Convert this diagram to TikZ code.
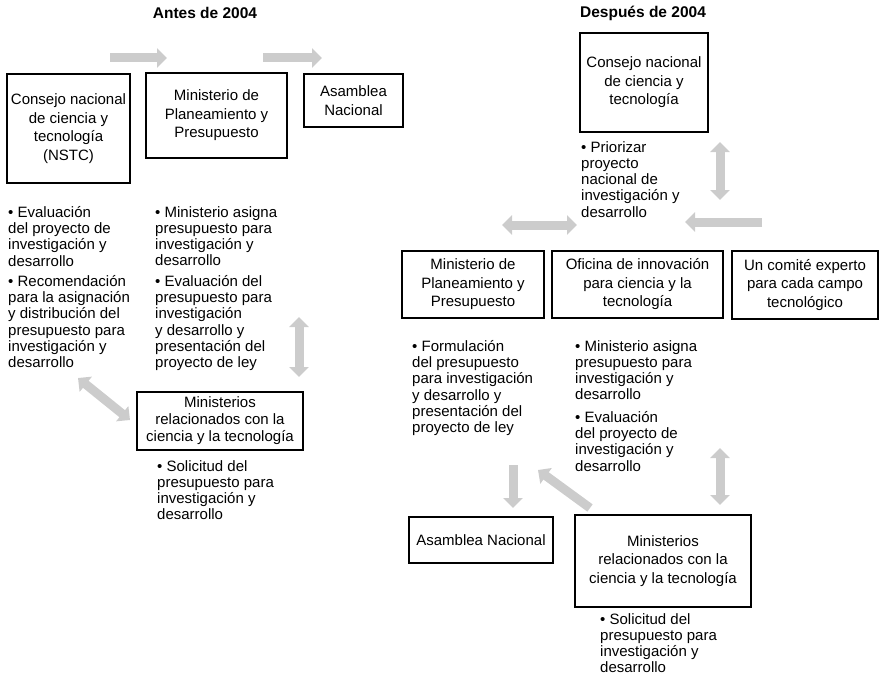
\documentclass[tikz,border=0pt]{standalone}
\usepackage{fontspec}
\setmainfont{Liberation Sans}
\usetikzlibrary{arrows.meta}

\begin{document}
\begin{tikzpicture}[x=1pt, y=-1pt,
  caja/.style={draw, line width=2pt, align=center, inner sep=0pt, font=\fontsize{15}{18.5}\selectfont},
  nota/.style={anchor=north west, align=left, inner sep=0pt, font=\fontsize{15}{16.3}\selectfont},
  titulo/.style={font=\fontsize{15.5}{18}\selectfont\bfseries},
  flecha/.style={line width=9pt, draw=black!20, -{Triangle[length=10pt,width=19pt]}},
  dflecha/.style={line width=9pt, draw=black!20, {Triangle[length=10pt,width=19pt]}-{Triangle[length=10pt,width=19pt]}}]
\useasboundingbox (0,0) rectangle (881,677);

% Antes de 2004
\node[titulo] (antes) at (205,13) {Antes de 2004};
\node[caja, minimum width=123, minimum height=109] (consejoA) at (68.5,128.5) {Consejo nacional\\de ciencia y\\tecnología\\(NSTC)};
\node[caja, minimum width=141, minimum height=85] (ministerioA) at (216.5,115.5) {Ministerio de\\Planeamiento y\\Presupuesto};
\node[caja, minimum width=99, minimum height=53] (asambleaA) at (353.5,100.5) {Asamblea\\Nacional};
\node[caja, minimum width=166, minimum height=58, font=\fontsize{15}{17}\selectfont] (ministeriosA) at (220,421) {Ministerios\\relacionados con la\\ciencia y la tecnología};

\node[nota] (evalA) at (8,206) {• Evaluación\\del proyecto de\\investigación y\\desarrollo};
\node[nota] (recomA) at (8,275) {• Recomendación\\para la asignación\\y distribución del\\presupuesto para\\investigación y\\desarrollo};
\node[nota] (asignaA) at (155,206) {• Ministerio asigna\\presupuesto para\\investigación y\\desarrollo};
\node[nota] (evalpresA) at (155,275) {• Evaluación del\\presupuesto para\\investigación\\y desarrollo y\\presentación del\\proyecto de ley};
\node[nota] (solicitudA) at (157,460) {• Solicitud del\\presupuesto para\\investigación y\\desarrollo};

\coordinate (a1) at (110,58);
\coordinate (a2) at (167,58);
\coordinate (a3) at (263,58);
\coordinate (a4) at (322,58);
\coordinate (a5) at (299,317);
\coordinate (a6) at (299,377);
\coordinate (a7) at (78,378);
\coordinate (a8) at (130,420);
\draw[flecha] (a1) -- (a2);
\draw[flecha] (a3) -- (a4);
\draw[dflecha] (a5) -- (a6);
\draw[dflecha] (a7) -- (a8);

% Despues de 2004
\node[titulo] (despues) at (643,13) {Después de 2004};
\node[caja, minimum width=128, minimum height=99] (consejoB) at (644,82.5) {Consejo nacional\\de ciencia y\\tecnología};
\node[caja, minimum width=142, minimum height=67] (ministerioB) at (473,284.5) {Ministerio de\\Planeamiento y\\Presupuesto};
\node[caja, minimum width=171, minimum height=67] (oficinaB) at (637.5,284.5) {Oficina de innovación\\para ciencia y la\\tecnología};
\node[caja, minimum width=146, minimum height=68] (comiteB) at (805,285) {Un comité experto\\para cada campo\\tecnológico};
\node[caja, minimum width=144, minimum height=46] (asambleaB) at (481,540) {Asamblea Nacional};
\node[caja, minimum width=176, minimum height=92] (ministeriosB) at (663,561) {Ministerios\\relacionados con la\\ciencia y la tecnología};

\node[nota] (priorizarB) at (581,141) {• Priorizar\\proyecto\\nacional de\\investigación y\\desarrollo};
\node[nota] (formulB) at (412,340) {• Formulación\\del presupuesto\\para investigación\\y desarrollo y\\presentación del\\proyecto de ley};
\node[nota] (asignaB) at (575,340) {• Ministerio asigna\\presupuesto para\\investigación y\\desarrollo};
\node[nota] (evalB) at (575,411) {• Evaluación\\del proyecto de\\investigación y\\desarrollo};
\node[nota] (solicitudB) at (600,613) {• Solicitud del\\presupuesto para\\investigación y\\desarrollo};

\coordinate (b1) at (720,142);
\coordinate (b2) at (720,200);
\coordinate (b3) at (502,225);
\coordinate (b4) at (577,225);
\coordinate (b5) at (762,222);
\coordinate (b6) at (685,222);
\coordinate (b7) at (513,465);
\coordinate (b8) at (513,508);
\coordinate (b9) at (590,508);
\coordinate (b10) at (538,470);
\coordinate (b11) at (720,448);
\coordinate (b12) at (720,505);
\draw[dflecha] (b1) -- (b2);
\draw[dflecha] (b3) -- (b4);
\draw[flecha] (b5) -- (b6);
\draw[flecha] (b7) -- (b8);
\draw[flecha] (b9) -- (b10);
\draw[dflecha] (b11) -- (b12);
\end{tikzpicture}
\end{document}
